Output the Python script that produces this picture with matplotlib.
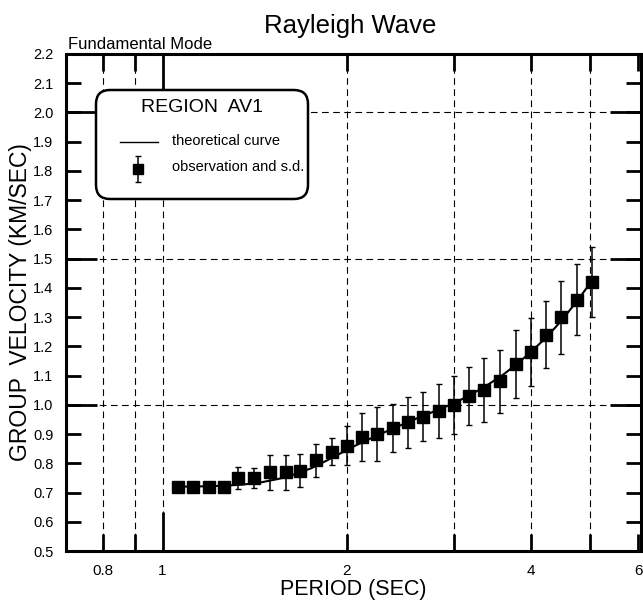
#!/usr/bin/env python3
"""Rayleigh wave group velocity dispersion, region AV1 (fundamental mode)."""
import matplotlib
matplotlib.use("Agg")
import matplotlib.pyplot as plt
from matplotlib.patches import FancyBboxPatch
from matplotlib.ticker import FixedLocator, NullFormatter, FixedFormatter

plt.rcParams.update({
    "font.family": ["Liberation Sans", "DejaVu Sans"],
    "axes.linewidth": 2.2,
})

# observations (period in s, group velocity km/s, standard deviation)
period = [1.06, 1.12, 1.19, 1.26, 1.33, 1.41, 1.50, 1.59, 1.68, 1.78,
          1.89, 2.00, 2.12, 2.24, 2.38, 2.52, 2.67, 2.83, 3.00, 3.17,
          3.36, 3.56, 3.78, 4.00, 4.24, 4.49, 4.76, 5.04]
velocity = [0.72, 0.72, 0.72, 0.72, 0.75, 0.75, 0.77, 0.77, 0.775, 0.81,
            0.84, 0.86, 0.89, 0.90, 0.92, 0.94, 0.96, 0.98, 1.00, 1.03,
            1.05, 1.08, 1.14, 1.18, 1.24, 1.30, 1.36, 1.42]
sd = [0.0, 0.0, 0.0, 0.0, 0.037, 0.035, 0.06, 0.06, 0.056, 0.056,
      0.046, 0.066, 0.081, 0.091, 0.083, 0.088, 0.085, 0.093, 0.10, 0.099,
      0.109, 0.108, 0.116, 0.117, 0.114, 0.125, 0.121, 0.12]

# theoretical curve
t_period = [1.06, 1.15, 1.25, 1.35, 1.45, 1.55, 1.65, 1.75, 1.85, 1.95,
            2.05, 2.2, 2.4, 2.6, 2.8, 3.0, 3.2, 3.4, 3.6, 3.8,
            4.0, 4.2, 4.4, 4.6, 4.8, 5.04]
t_velocity = [0.72, 0.721, 0.723, 0.727, 0.735, 0.747, 0.763, 0.783, 0.808, 0.833,
              0.857, 0.887, 0.922, 0.953, 0.980, 1.006, 1.036, 1.068, 1.102, 1.140,
              1.180, 1.222, 1.267, 1.315, 1.364, 1.425]

x_major = [0.8, 0.9, 2, 3, 4, 5, 6]
x_labels = ["0.8", "", "2", "", "4", "", "6"]
y_ticks = [0.5 + 0.1 * i for i in range(18)]
y_labels = [f"{v:.1f}" for v in y_ticks]
v_grid = [0.8, 0.9, 1, 2, 3, 4, 5]
h_grid = [1.0, 1.5, 2.0]

fig = plt.figure(figsize=(6.43, 6.04), dpi=100)
ax = fig.add_axes([0.1026, 0.0877, 0.8942, 0.8229])
ax.set_xscale("log")
ax.set_xlim(0.695, 6.06)
ax.set_ylim(0.5, 2.2)

for xv in v_grid:
    ax.axvline(xv, color="black", lw=0.8, ls=(0, (6, 4)), zorder=1)
for yv in h_grid:
    ax.axhline(yv, color="black", lw=0.8, ls=(0, (6, 4)), zorder=1)

ax.plot(t_period, t_velocity, color="black", lw=1.5, zorder=3)
ax.errorbar(period, velocity, yerr=sd, fmt="s", color="black", ms=8,
            elinewidth=1.1, capsize=2, capthick=1.0, zorder=4)

# x ticks: ordinary and a long one at 1
ax.xaxis.set_major_locator(FixedLocator(x_major))
ax.xaxis.set_major_formatter(FixedFormatter(x_labels))
ax.xaxis.set_minor_locator(FixedLocator([1]))
ax.xaxis.set_minor_formatter(FixedFormatter(["1"]))
ax.tick_params(axis="x", which="major", direction="in", length=12, width=2,
               top=True, labelsize=11, pad=9)
ax.tick_params(axis="x", which="minor", direction="in", length=28, width=2,
               top=True, labelsize=11, pad=9)

ax.yaxis.set_major_locator(FixedLocator(y_ticks))
ax.yaxis.set_major_formatter(FixedFormatter(y_labels))
ax.yaxis.set_minor_locator(FixedLocator(h_grid))
ax.yaxis.set_minor_formatter(NullFormatter())
ax.yaxis.remove_overlapping_locs = False
ax.tick_params(axis="y", which="major", direction="in", length=11, width=2,
               right=True, labelsize=10.5, pad=9)
ax.tick_params(axis="y", which="minor", direction="in", length=22, width=2,
               right=True)

ax.set_xlabel("PERIOD (SEC)", fontsize=15.5, labelpad=1)
ax.set_ylabel("GROUP  VELOCITY (KM/SEC)", fontsize=16.5, labelpad=1)
fig.text(0.545, 0.957, "Rayleigh Wave", fontsize=18.5, ha="center", va="center")
ax.text(0.004, 1.004, "Fundamental Mode", transform=ax.transAxes,
        fontsize=12, ha="left", va="bottom")

# legend panel, drawn in pixel-like units
lg = fig.add_axes([90 / 643, 1 - 205 / 604, 224 / 643, 121 / 604])
lg.set_xlim(90, 314)
lg.set_ylim(205, 84)
lg.axis("off")
lg.add_patch(FancyBboxPatch((96, 90), 212, 109,
                            boxstyle="round,pad=0,rounding_size=14",
                            fc="white", ec="black", lw=1.8))
lg.text(202, 108, "REGION  AV1", fontsize=14, ha="center", va="center")
lg.plot([120, 158], [142, 142], color="black", lw=1.0)
lg.text(172, 141, "theoretical curve", fontsize=10.5, ha="left", va="center")
lg.errorbar([138], [169], yerr=[13], fmt="s", color="black", ms=7,
            elinewidth=1.1, capsize=2, capthick=1.0)
lg.text(172, 167, "observation and s.d.", fontsize=10.5, ha="left", va="center")

fig.savefig("out.png", dpi=100)
